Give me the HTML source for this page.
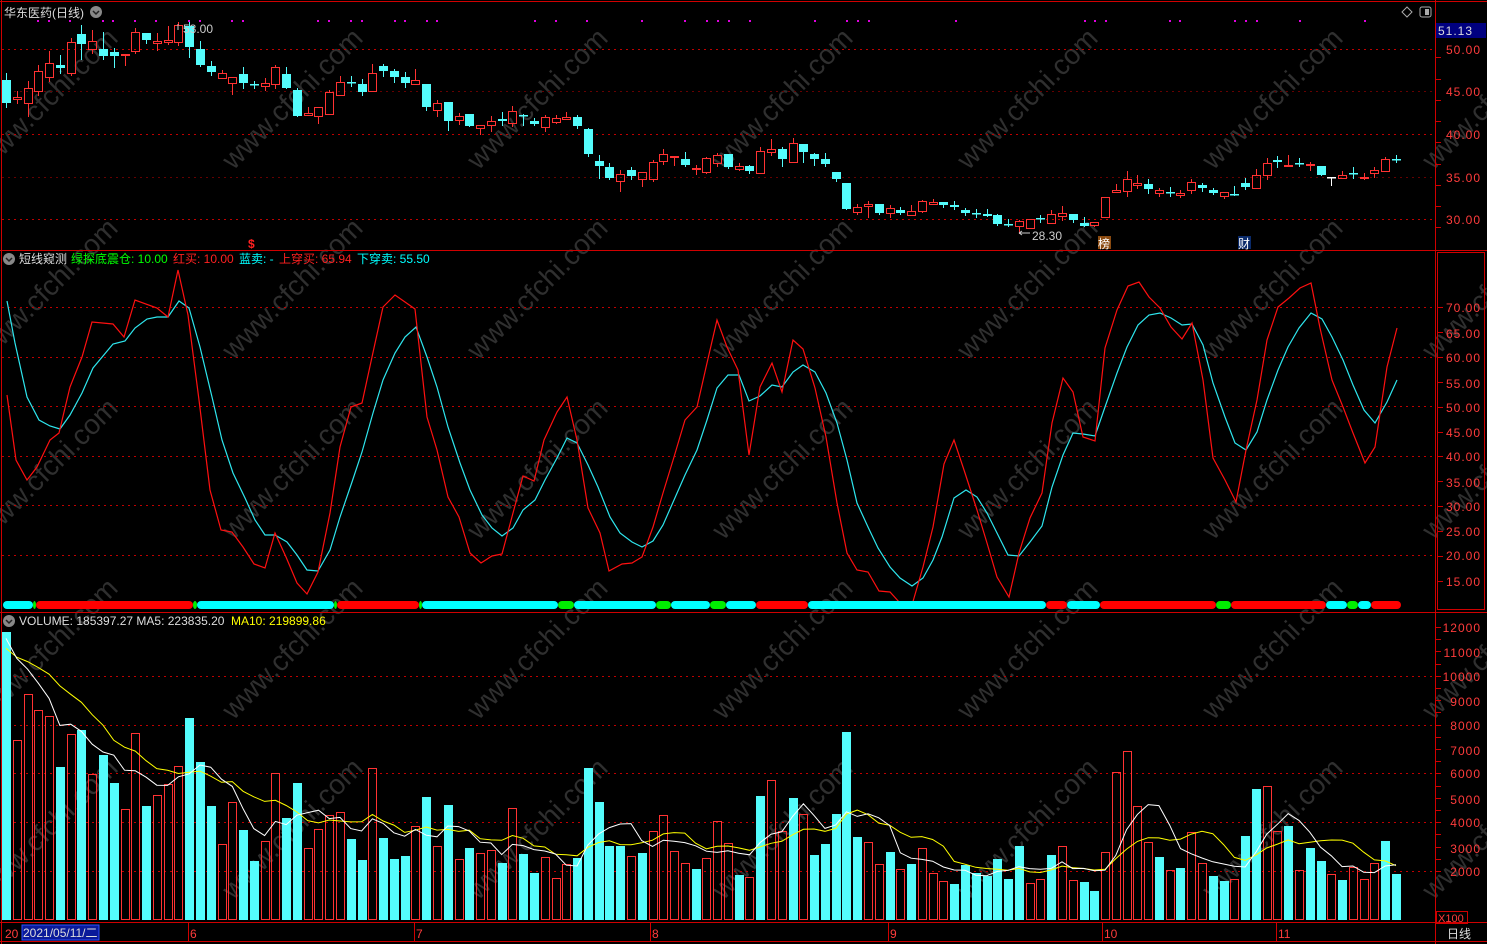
<!DOCTYPE html>
<html><head><meta charset="utf-8">
<style>
html,body{margin:0;padding:0;background:#000;}
body{width:1487px;height:944px;overflow:hidden;position:relative;}
svg{position:absolute;left:0;top:0;}
text{font-family:"Liberation Sans","Noto Sans CJK SC",sans-serif;}
.ax{fill:#ff3c3c;font-size:12px;letter-spacing:1px;text-anchor:end;}
.wm{fill:#2f2f2f;font-size:28px;}
</style></head><body>
<svg id="s" width="1487" height="944" viewBox="0 0 1487 944" xmlns="http://www.w3.org/2000/svg">
<rect width="1487" height="944" fill="#000"/>
<g id="wm"></g>
<g id="grid" stroke="#c00000" stroke-width="1" stroke-dasharray="2,4">
<line x1="2" y1="49.5" x2="1435" y2="49.5"/><line x1="2" y1="134.5" x2="1435" y2="134.5"/><line x1="2" y1="219.5" x2="1435" y2="219.5"/>
<line x1="2" y1="91.5" x2="1435" y2="91.5" stroke="#600"/><line x1="2" y1="177.5" x2="1435" y2="177.5" stroke="#600"/>
<line x1="2" y1="307.5" x2="1435" y2="307.5"/><line x1="2" y1="357.5" x2="1435" y2="357.5"/><line x1="2" y1="406.5" x2="1435" y2="406.5"/><line x1="2" y1="456.5" x2="1435" y2="456.5"/><line x1="2" y1="505.5" x2="1435" y2="505.5"/><line x1="2" y1="555.5" x2="1435" y2="555.5"/>
<line x1="2" y1="676.5" x2="1435" y2="676.5"/><line x1="2" y1="725.5" x2="1435" y2="725.5"/><line x1="2" y1="773.5" x2="1435" y2="773.5"/><line x1="2" y1="822.5" x2="1435" y2="822.5"/><line x1="2" y1="871.5" x2="1435" y2="871.5"/>
</g>
<g stroke="#d00000" stroke-width="1" fill="none">
<line x1="0" y1="1.5" x2="1487" y2="1.5"/>
<line x1="1.5" y1="0" x2="1.5" y2="944"/>
<line x1="0" y1="250.5" x2="1487" y2="250.5"/>
<line x1="0" y1="612.5" x2="1487" y2="612.5"/>
<line x1="0" y1="922.5" x2="1487" y2="922.5"/>
<line x1="0" y1="941.5" x2="1487" y2="941.5"/>
<line x1="1435.5" y1="0" x2="1435.5" y2="944"/>
<rect x="1437.5" y="252.5" width="47" height="357"/>
</g>
<g id="ticks" stroke="#d00000" stroke-width="1"></g>
<g id="cand"></g>
<g id="ind"></g>
<g id="vol"></g>
<rect x="1436" y="23" width="50" height="15" fill="#000080"/>
<text x="1438" y="35" font-size="12" fill="#ddd" letter-spacing="1">51.13</text>
<text class="ax" x="1481" y="54">50.00</text>
<text class="ax" x="1481" y="96">45.00</text>
<text class="ax" x="1481" y="139">40.00</text>
<text class="ax" x="1481" y="182">35.00</text>
<text class="ax" x="1481" y="224">30.00</text>
<text class="ax" x="1481" y="312">70.00</text>
<text class="ax" x="1481" y="338">65.00</text>
<text class="ax" x="1481" y="362">60.00</text>
<text class="ax" x="1481" y="388">55.00</text>
<text class="ax" x="1481" y="412">50.00</text>
<text class="ax" x="1481" y="437">45.00</text>
<text class="ax" x="1481" y="461">40.00</text>
<text class="ax" x="1481" y="487">35.00</text>
<text class="ax" x="1481" y="511">30.00</text>
<text class="ax" x="1481" y="536">25.00</text>
<text class="ax" x="1481" y="560">20.00</text>
<text class="ax" x="1481" y="586">15.00</text>
<text class="ax" x="1481" y="632">12000</text>
<text class="ax" x="1481" y="657">11000</text>
<text class="ax" x="1481" y="681">10000</text>
<text class="ax" x="1481" y="706">9000</text>
<text class="ax" x="1481" y="730">8000</text>
<text class="ax" x="1481" y="755">7000</text>
<text class="ax" x="1481" y="778">6000</text>
<text class="ax" x="1481" y="804">5000</text>
<text class="ax" x="1481" y="827">4000</text>
<text class="ax" x="1481" y="853">3000</text>
<text class="ax" x="1481" y="876">2000</text>
<rect x="1436.5" y="911.5" width="31" height="12" fill="none" stroke="#d00000"/>
<text x="1438" y="922" font-size="11" fill="#ff3c3c">X100</text>
<text x="1447" y="938" font-size="12" fill="#ddd">日线</text>
<path d="M1402 12 L1407 7 L1412 12 L1407 17 Z" fill="none" stroke="#aaa"/>
<rect x="1420" y="7" width="11" height="10" rx="2" fill="none" stroke="#aaa"/><rect x="1425" y="9" width="4" height="6" fill="#aaa"/>
<text x="4" y="17" font-size="12" fill="#ddd">华东医药(日线)</text>
<circle cx="96" cy="12" r="6" fill="#888"/><path d="M93 11 L96 14 L99 11" stroke="#222" stroke-width="1.5" fill="none"/>
<g id="dots" fill="#e000e0"></g>
<text x="183" y="33" font-size="12" fill="#ccc">53.00</text>
<path d="M178 24 L178 30" stroke="#ccc"/>
<text x="1032" y="240" font-size="12" fill="#ccc">28.30</text>
<path d="M1019 233 L1030 233 M1019 233 L1022 231 M1019 233 L1022 235" stroke="#ccc"/>
<text x="248" y="248" font-size="12" font-weight="bold" fill="#ff2020">$</text>
<rect x="1098" y="236" width="13" height="13" fill="#8a4a10"/><text x="1098" y="248" font-size="12" fill="#fff">榜</text>
<rect x="1238" y="236" width="13" height="13" fill="#0a2a6a"/><text x="1238" y="248" font-size="12" fill="#fff">财</text>
<circle cx="9" cy="259" r="6" fill="#888"/><path d="M6 258 L9 261 L12 258" stroke="#222" stroke-width="1.5" fill="none"/>
<text y="263" font-size="12"><tspan x="19" fill="#ddd">短线窥测</tspan><tspan x="71" fill="#00ff00">绿探底震仓: 10.00</tspan><tspan x="173" fill="#ff2020">红买: 10.00</tspan><tspan x="239" fill="#00ffff">蓝卖: -</tspan><tspan x="279" fill="#ff2020">上穿买: 65.94</tspan><tspan x="357" fill="#00ffff">下穿卖: 55.50</tspan></text>
<circle cx="9" cy="621" r="6" fill="#888"/><path d="M6 620 L9 623 L12 620" stroke="#222" stroke-width="1.5" fill="none"/>
<text y="625" font-size="12"><tspan x="19" fill="#ddd">VOLUME: 185397.27  MA5: 223835.20</tspan><tspan x="231" fill="#ffff00">MA10: 219899.86</tspan></text>
<text x="5" y="938" font-size="12" fill="#ff3c3c">20</text>
<rect x="22" y="925" width="77" height="15" fill="#0a1a9a" stroke="#3050ff"/>
<text x="23" y="937" font-size="12" fill="#ddd">2021/05/11/二</text>
<g font-size="12" fill="#ff3c3c"><text x="190" y="938">6</text><text x="416" y="938">7</text><text x="652" y="938">8</text><text x="890" y="938">9</text><text x="1104" y="938">10</text><text x="1278" y="938">11</text></g>
<g stroke="#d00000"><line x1="188.5" y1="923" x2="188.5" y2="941"/><line x1="414.5" y1="923" x2="414.5" y2="941"/><line x1="650.5" y1="923" x2="650.5" y2="941"/><line x1="888.5" y1="923" x2="888.5" y2="941"/><line x1="1102.5" y1="923" x2="1102.5" y2="941"/><line x1="1276.5" y1="923" x2="1276.5" y2="941"/></g>
</svg>
<script>
var NS="http://www.w3.org/2000/svg";
function el(p,t,a){var e=document.createElementNS(NS,t);for(var k in a)e.setAttribute(k,a[k]);p.appendChild(e);return e;}
var R="#ff3232",C="#54fcfc";
function X(i){return 6+i*10.775;}
var wm=document.getElementById("wm");
[100,290,470,650,830].forEach(function(cy){[45,290,535,780,1025,1270,1490].forEach(function(cx){
var t=el(wm,"text",{"class":"wm",x:cx-90,y:cy+10,transform:"rotate(-45 "+cx+" "+cy+")"});t.textContent="www.cfchi.com";});});
var tk=document.getElementById("ticks");
for(var y=36;y<245;y+=8.5*2.5){el(tk,"line",{x1:1436,x2:1441,y1:Math.round(y)+.5,y2:Math.round(y)+.5});}
for(var v=15;v<=70;v+=5){var yy=307+(70-v)*4.98;el(tk,"line",{x1:1438,x2:1443,y1:Math.round(yy)+.5,y2:Math.round(yy)+.5});}
for(var v=2000;v<=12000;v+=500){var yy=871-(v-2000)*0.0244;el(tk,"line",{x1:1436,x2:1441,y1:Math.round(yy)+.5,y2:Math.round(yy)+.5});}
var dg=document.getElementById("dots");
[38,49,70,103,113,135,156,189,200,232,243,318,329,351,362,395,405,427,437,535,556,587,642,685,707,718,729,750,815,847,858,869,956,1085,1095,1106,1170,1180,1235,1246,1257,1300,1365].forEach(function(x){el(dg,"rect",{x:x-1,y:20,width:2,height:2});});
var cd="c80,103,73,107 r97,99,91,103 r88,103,81,116 r71,91,65,95 r63,77,51,81 c65,68,55,73 r42,73,38,75 c34,44,25,59 r41,49,30,53 c49,56,32,59 c52,56,48,67 r54,55,54,65 r32,51,28,53 c33,40,33,43 r41,43,33,50 r40,42,26,44 r25,42,22,45 c26,47,22,57 c49,65,41,66 c66,72,61,75 r73,78,70,78 r77,83,77,94 c74,83,67,88 c84,85,81,88 r83,86,78,90 r67,84,65,88 c74,88,67,88 c90,116,88,116 r113,115,107,115 r107,116,107,123 r92,114,90,114 r82,95,76,95 c82,83,76,86 c84,92,79,95 r73,91,64,91 c66,71,64,76 c71,77,69,82 c77,83,72,87 r80,84,69,84 c84,107,84,110 r103,110,100,116 c102,121,102,130 r116,120,113,124 c114,126,114,126 r125,128,125,134 r121,125,116,131 c119,121,112,125 r111,123,106,126 c115,116,114,125 c121,124,118,125 r117,127,115,131 r118,122,115,123 r117,119,112,119 c117,126,115,128 c129,154,128,156 c161,166,155,178 c167,178,163,179 r174,181,170,191 c170,176,167,179 r172,179,172,186 r162,179,160,181 r154,161,149,164 r156,157,156,165 c159,165,152,166 r168,169,165,174 r158,172,157,173 r155,163,153,166 c154,167,154,168 r166,169,163,170 c166,171,165,173 r151,173,147,173 r149,152,139,155 c149,159,147,166 r143,162,138,162 c144,152,144,162 c154,159,153,165 c159,164,153,166 c172,179,172,181 c183,209,183,209 r207,212,204,214 r204,206,201,217 c204,213,204,214 r208,213,205,217 c210,213,207,214 r211,215,205,215 r201,211,200,212 r202,204,199,204 c202,205,202,207 c205,207,201,209 c210,213,208,215 c213,214,209,217 c214,216,209,216 c215,224,214,225 c224,225,219,226 r221,226,220,233 r219,228,219,228 c218,219,215,222 r214,223,210,223 r213,216,206,220 c214,220,214,222 c223,226,217,226 r222,225,222,226 r197,217,197,217 r190,192,184,192 r179,191,171,196 r183,185,175,188 c184,189,179,193 r190,193,188,196 c192,193,187,196 r193,195,190,197 r182,190,179,193 c185,188,183,191 c190,193,188,194 r192,196,192,198 c194,195,186,195 c183,187,178,189 r175,188,169,188 r163,175,158,179 c160,162,156,167 r165,166,155,166 c163,164,158,166 r164,165,162,170 c166,175,166,175 w177,178,177,185 r175,178,171,178 c173,174,167,178 r177,178,173,179 r170,173,167,177 r159,171,157,171 c159,160,155,162".split(" ");
var cg=document.getElementById("cand");
cd.forEach(function(s,i){var t=s[0],a=s.slice(1).split(",").map(Number);var x=Math.round(X(i));
var col=t=="r"?R:(t=="w"?"#fff":C);
el(cg,"line",{x1:x+.5,x2:x+.5,y1:a[2],y2:a[0],stroke:col});
el(cg,"line",{x1:x+.5,x2:x+.5,y1:a[1],y2:a[3]+1,stroke:col});
var h=Math.max(1,a[1]-a[0]);
if(t=="r")el(cg,"rect",{x:x-3.5,y:a[0]+.5,width:8,height:Math.max(h,1),fill:"none",stroke:col});
else el(cg,"rect",{x:x-4,y:a[0],width:9,height:Math.max(h,1.5),fill:col});
});
var ig=document.getElementById("ind");
var red=[[7,395],[16,460],[27,480],[37,467],[50,440],[59,433],[70,387],[82,357],[92,322],[113,324],[124,337],[135,300],[157,308],[168,317],[178,270],[188,315],[199,400],[210,490],[221,530],[232,532],[243,547],[254,564],[265,568],[275,533],[286,557],[297,583],[307,594],[318,572],[330,513],[340,447],[351,407],[362,403],[372,357],[383,307],[395,295],[415,309],[427,417],[437,450],[448,497],[459,517],[470,553],[481,563],[492,556],[502,554],[513,513],[523,476],[534,481],[544,440],[557,412],[567,397],[577,440],[588,508],[600,533],[609,571],[622,564],[632,563],[642,557],[653,527],[663,493],[674,457],[685,420],[697,407],[707,363],[717,320],[727,347],[738,370],[749,455],[760,387],[772,363],[782,392],[793,340],[803,349],[815,388],[826,437],[837,503],[847,553],[857,570],[868,572],[879,591],[890,592],[900,603],[912,605],[923,567],[933,527],[944,464],[954,440],[965,473],[977,510],[987,543],[997,577],[1009,597],[1019,553],[1030,518],[1042,493],[1052,423],[1063,378],[1073,392],[1083,437],[1095,441],[1105,348],[1117,310],[1128,286],[1139,282],[1149,297],[1160,308],[1171,327],[1182,339],[1192,323],[1203,380],[1213,458],[1225,480],[1236,502],[1246,450],[1257,400],[1267,340],[1278,307],[1289,298],[1300,288],[1311,283],[1320,328],[1332,380],[1343,407],[1353,433],[1365,463],[1375,447],[1387,367],[1397,328]];
var cy=[[7,301],[15,343],[27,397],[39,420],[50,426],[60,429],[70,415],[82,393],[93,368],[113,344],[125,341],[135,328],[147,319],[157,317],[168,317],[179,301],[189,308],[200,347],[212,397],[222,440],[233,473],[245,498],[255,520],[265,535],[275,535],[287,542],[297,555],[307,570],[318,571],[330,550],[340,517],[352,482],[362,452],[373,413],[383,380],[395,353],[405,337],[416,327],[427,357],[437,387],[448,427],[460,463],[470,490],[482,515],[492,528],[502,536],[513,528],[523,510],[535,500],[545,480],[557,458],[567,438],[577,443],[588,465],[598,487],[610,517],[620,533],[632,542],[642,547],[653,541],[663,525],[674,500],[685,475],[697,450],[707,420],[717,388],[728,375],[739,375],[749,401],[760,396],[772,385],[782,387],[793,372],[803,365],[815,372],[826,393],[837,423],[847,460],[857,503],[868,527],[878,548],[890,567],[900,578],[912,586],[923,578],[933,560],[942,537],[954,498],[966,490],[977,497],[987,513],[997,533],[1008,555],[1019,556],[1030,542],[1042,526],[1052,487],[1063,455],[1073,433],[1083,434],[1095,436],[1105,407],[1117,373],[1127,347],[1138,325],[1149,315],[1160,313],[1171,318],[1182,325],[1192,324],[1203,345],[1213,383],[1225,417],[1235,443],[1246,450],[1257,432],[1267,400],[1278,370],[1288,347],[1299,328],[1311,313],[1322,319],[1332,337],[1343,360],[1353,385],[1364,410],[1375,423],[1387,402],[1397,380]];
el(ig,"polyline",{points:cy.join(" "),fill:"none",stroke:"#2ee6ee","stroke-width":1.2});
el(ig,"polyline",{points:red.join(" "),fill:"none",stroke:"#ff1010","stroke-width":1.2});
var segs=[["c",3,33],["g",33,36],["r",36,193],["g",193,197],["c",197,334],["g",334,337],["r",337,419],["g",419,422],["c",422,558],["g",558,574],["c",574,656],["g",656,671],["c",671,710],["g",710,726],["c",726,756],["r",756,808],["c",808,1046],["r",1046,1067],["c",1067,1100],["r",1100,1216],["g",1216,1231],["r",1231,1326],["c",1326,1347],["g",1347,1358],["c",1358,1371],["r",1371,1401]];
var sc={c:"#00ffff",r:"#ff0000",g:"#00ee00"};
segs.forEach(function(s){el(ig,"rect",{x:s[1],y:601,width:s[2]-s[1],height:8,rx:4,fill:sc[s[0]]});});
var vt=[632,740,694,710,716,767,734,730,774,755,783,809,733,806,795,784,766,718,762,806,844,802,830,861,841,773,818,783,848,829,815,812,839,860,768,838,859,856,826,797,846,805,859,848,853,850,863,808,854,873,857,878,864,858,768,802,846,846,856,853,831,815,851,863,869,858,821,843,875,877,796,780,831,798,814,855,844,814,732,837,842,864,852,869,864,848,873,881,884,865,873,876,859,879,846,883,879,855,846,880,882,891,852,772,751,806,842,857,870,868,832,863,876,881,879,836,789,786,831,826,870,848,861,874,880,867,879,863,841,874];
var vc="crrrrcrcrccrrcrrrcccrrccrrccrrrrccrcccrcrcrcrr"+"crccrrrcccccrcrrrrcrrrcrcrrcrcccccrrcrcrrrc"+"ccccccrrcrrccrrrrrcrcrrccrccrrcrccrcrrrc";
var vg=document.getElementById("vol");
vt.forEach(function(t,i){var x=Math.round(X(i));var c=vc[i];
if(c=="r")el(vg,"rect",{x:x-3.5,y:t+.5,width:8,height:919-t,fill:"none",stroke:R});
else el(vg,"rect",{x:x-4,y:t,width:9,height:920-t,fill:C});});
function ma(n,pre){var pts=[];for(var i=0;i<vt.length;i++){var s=0,k=0;for(var j=i;j>i-n;j--){s+=(j>=0?920-vt[j]:pre);k++;}pts.push([X(i).toFixed(1),(920-s/k).toFixed(1)]);}return pts;}
var m5=ma(5,280),m10=ma(10,270);
el(vg,"polyline",{points:m10.join(" "),fill:"none",stroke:"#ffff00","stroke-width":1});
el(vg,"polyline",{points:m5.join(" "),fill:"none",stroke:"#ffffff","stroke-width":1});
</script>
</body></html>
